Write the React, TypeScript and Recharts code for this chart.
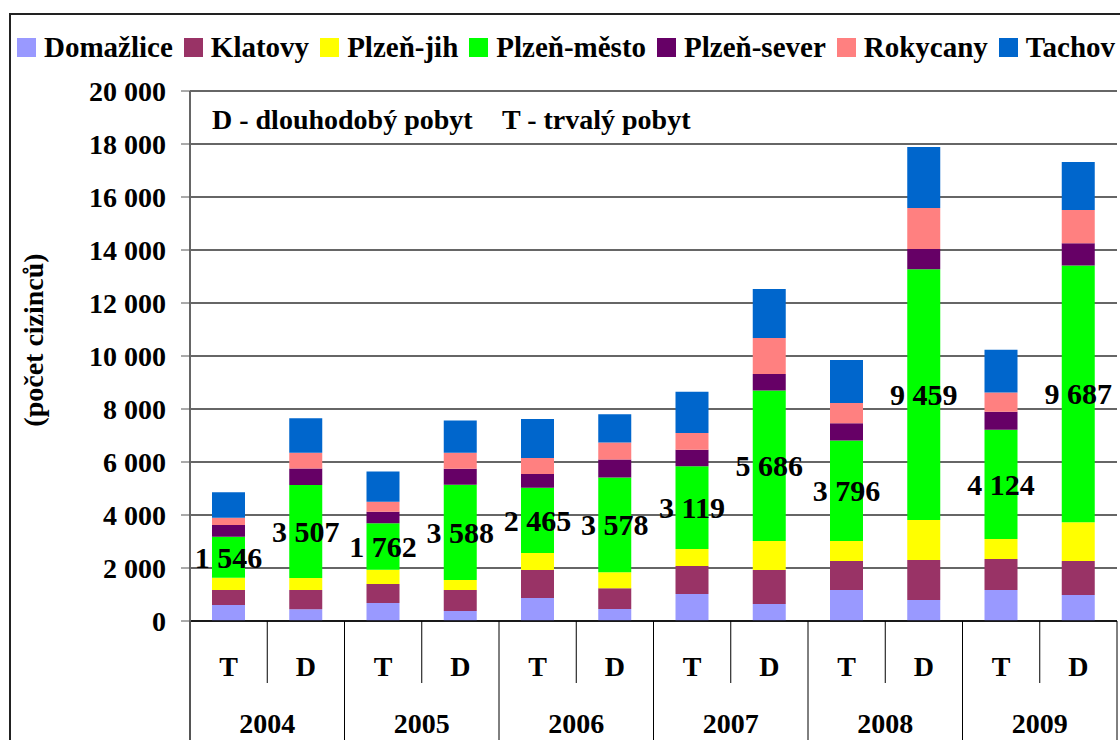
import React from 'react';
import { BarChart, Bar, XAxis, YAxis, CartesianGrid, LabelList } from 'recharts';

const years = ['2004', '2005', '2006', '2007', '2008', '2009'];
const stayTypes = ['T', 'D'];

const domazlice = [600, 440, 680, 380, 870, 450, 1020, 640, 1170, 790, 1170, 980];
const klatovy = [570, 730, 720, 790, 1055, 790, 1060, 1285, 1094, 1510, 1170, 1280];
const plzenJih = [460, 455, 530, 380, 640, 600, 640, 1090, 755, 1510, 755, 1470];
const plzenMesto = [1546, 3507, 1762, 3588, 2465, 3578, 3119, 5686, 3796, 9459, 4124, 9687];
const plzenSever = [450, 620, 430, 610, 520, 680, 620, 620, 650, 770, 680, 840];
const rokycany = [270, 600, 380, 600, 600, 640, 640, 1360, 760, 1550, 720, 1250];
const tachov = [960, 1300, 1140, 1220, 1470, 1060, 1550, 1850, 1620, 2300, 1620, 1810];

const seriesNames = ['Domažlice', 'Klatovy', 'Plzeň-jih', 'Plzeň-město', 'Plzeň-sever', 'Rokycany', 'Tachov'];
const seriesKeys = ['dom', 'kla', 'jih', 'mesto', 'sever', 'roky', 'tach'];
const seriesColors = ['#9999FF', '#993366', '#FFFF00', '#00FF00', '#660066', '#FF8080', '#0066CC'];
const seriesValues = [domazlice, klatovy, plzenJih, plzenMesto, plzenSever, rokycany, tachov];

const yTicks = [0, 2000, 4000, 6000, 8000, 10000, 12000, 14000, 16000, 18000, 20000];
const yAxisTitle = '(počet cizinců)';
const noteD = 'D - dlouhodobý pobyt';
const noteT = 'T - trvalý pobyt';

const categories = years.flatMap((y) => stayTypes.map((t) => ({ year: y, type: t })));
const data = categories.map((c, i) => {
  const row: any = { key: c.year + c.type, type: c.type, year: c.year };
  seriesKeys.forEach((k, j) => {
    row[k] = seriesValues[j][i];
  });
  return row;
});

const FONT = "'Liberation Serif', 'DejaVu Serif', 'Times New Roman', Times, serif";
const fmt = (v: any) => String(v).replace(/\B(?=(\d{3})+(?!\d))/g, '\u00A0');

const W = 1120;
const H = 740;
const AXIS_Y = 621;
const PLOT_LEFT = 190;
const PLOT_RIGHT = 1117;
const BAND = (PLOT_RIGHT - PLOT_LEFT) / 12;

const XTick = (props: any) => {
  const { x, payload } = props;
  const idx = payload?.index ?? props.index ?? 0;
  const half = payload?.offset ? payload.offset : BAND / 2;
  const c = categories[idx];
  if (!c) return null;
  return (
    <g>
      <text x={x} y={676} textAnchor="middle" fill="#000" fontSize={28} fontWeight="bold" fontFamily={FONT}>
        {c.type}
      </text>
      <line x1={x + half} x2={x + half} y1={AXIS_Y} y2={idx % 2 === 0 ? 683 : H} stroke="#000" strokeWidth={1} />
      {idx === 0 && <line x1={x - half} x2={x - half} y1={AXIS_Y} y2={H} stroke="#555" strokeWidth={2} />}
      {idx % 2 === 1 && (
        <text x={x - half} y={733} textAnchor="middle" fill="#000" fontSize={28} fontWeight="bold" fontFamily={FONT}>
          {c.year}
        </text>
      )}
    </g>
  );
};

export default function App() {
  return (
    <div style={{ position: 'absolute', left: 0, top: 0, width: W, height: H, overflow: 'hidden', background: '#fff', fontFamily: FONT }}>
      <div
        style={{
          position: 'absolute',
          left: 9,
          top: 13,
          width: 1300,
          height: 900,
          border: '2px solid #222',
          boxSizing: 'border-box',
        }}
      />
      <div
        style={{
          position: 'absolute',
          left: 17,
          top: 33,
          display: 'flex',
          alignItems: 'center',
          fontFamily: FONT,
          fontWeight: 'bold',
          fontSize: 29,
          whiteSpace: 'nowrap',
          lineHeight: '29px',
        }}
      >
        {seriesNames.map((n, i) => (
          <div key={n} style={{ display: 'flex', alignItems: 'center', marginRight: 11 }}>
            <span style={{ display: 'inline-block', width: 19, height: 19, background: seriesColors[i], marginRight: 8 }} />
            <span>{n}</span>
          </div>
        ))}
      </div>
      <div style={{ position: 'absolute', left: 0, top: 0 }}>
        <BarChart
          width={W}
          height={H}
          data={data}
          margin={{ top: 91, right: W - PLOT_RIGHT, bottom: 0, left: 0 }}
          barSize={33}
        >
          <CartesianGrid horizontal={true} vertical={false} stroke="#333" strokeWidth={1.3} />
          <XAxis
            dataKey="key"
            height={H - AXIS_Y}
            interval={0}
            tickLine={false}
            axisLine={{ stroke: '#000', strokeWidth: 1.3 }}
            tick={<XTick />}
          />
          <YAxis
            width={PLOT_LEFT}
            domain={[0, 20000]}
            ticks={yTicks}
            interval={0}
            tickSize={9}
            tickMargin={15}
            tickLine={{ stroke: '#555' }}
            axisLine={{ stroke: '#666', strokeWidth: 2 }}
            tickFormatter={fmt}
            tick={{ fill: '#000', fontSize: 28, fontWeight: 'bold', fontFamily: FONT }}
          />
          {seriesKeys.map((k, i) => (
            <Bar key={k} dataKey={k} name={seriesNames[i]} stackId="a" fill={seriesColors[i]} isAnimationActive={false}>
              {k === 'mesto' && (
                <LabelList
                  dataKey={k}
                  position="center"
                  formatter={fmt}
                  fill="#000"
                  fontSize={30}
                  fontWeight="bold"
                  fontFamily={FONT}
                />
              )}
            </Bar>
          ))}
        </BarChart>
      </div>
      <svg width={W} height={H} style={{ position: 'absolute', left: 0, top: 0, pointerEvents: 'none' }}>
        <text x={212} y={129} fill="#000" fontSize={28} fontWeight="bold" fontFamily={FONT}>
          {noteD}
        </text>
        <text x={502} y={129} fill="#000" fontSize={28} fontWeight="bold" fontFamily={FONT}>
          {noteT}
        </text>
        <text
          x={0}
          y={0}
          transform="translate(43,340) rotate(-90)"
          textAnchor="middle"
          fill="#000"
          fontSize={28}
          fontWeight="bold"
          fontFamily={FONT}
        >
          {yAxisTitle}
        </text>
      </svg>
    </div>
  );
}
